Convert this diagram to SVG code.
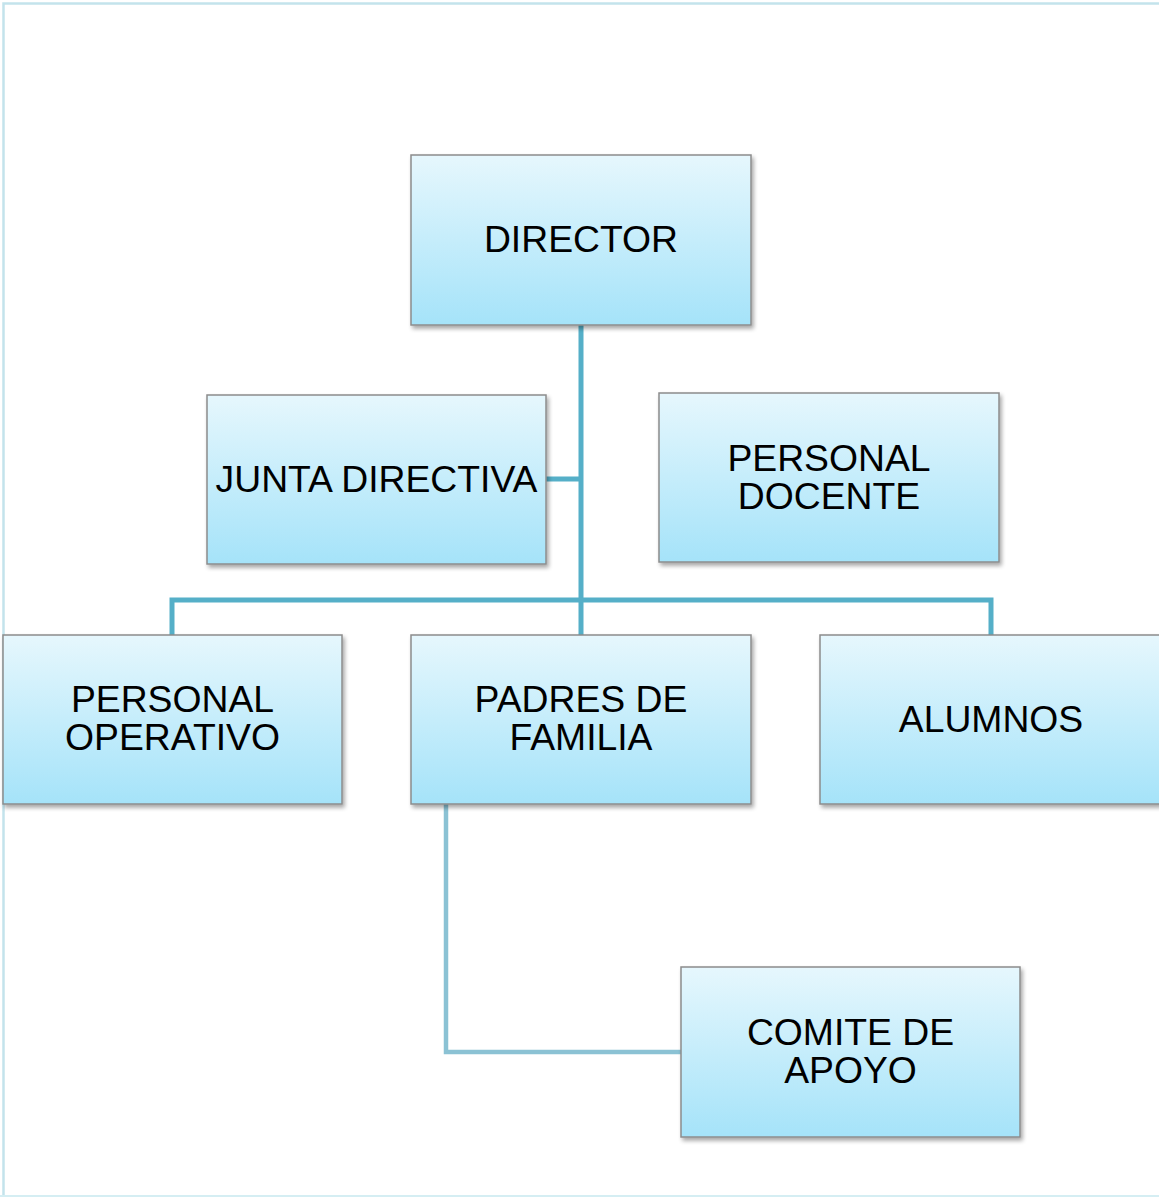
<svg xmlns="http://www.w3.org/2000/svg" width="1159" height="1197" viewBox="0 0 1159 1197">
<defs>
<linearGradient id="g" x1="0" y1="0" x2="0" y2="1">
<stop offset="0" stop-color="#e6f7fd"/>
<stop offset="1" stop-color="#a5e3f9"/>
</linearGradient>
<filter id="sh" x="-5%" y="-5%" width="115%" height="120%">
<feGaussianBlur in="SourceAlpha" stdDeviation="2"/>
<feOffset dx="2" dy="3" result="b"/>
<feComponentTransfer><feFuncA type="linear" slope="0.35"/></feComponentTransfer>
<feMerge><feMergeNode/><feMergeNode in="SourceGraphic"/></feMerge>
</filter>
</defs>
<style>
.box{fill:url(#g);stroke:#8c8c8c;stroke-width:1.5;filter:url(#sh)}
.t{font-family:"Liberation Sans",Arial,sans-serif;font-size:37.3px;fill:#000;text-anchor:middle}
.c{fill:none;stroke:#55afc8;stroke-width:5}
.c2{fill:none;stroke:#8bc2d4;stroke-width:4.5}
</style>
<rect x="0" y="0" width="1159" height="1197" fill="#fff"/>
<path d="M3.5 1196 V3.5 H1170" fill="none" stroke="#c3e3ec" stroke-width="2.5"/>
<path d="M0 1196 H1170" fill="none" stroke="#d5eef3" stroke-width="2"/>
<g id="connectors">
<path class="c" d="M581 325 V635"/>
<path class="c" d="M546 479 H581"/>
<path class="c" d="M172 635 V600 H991 V635"/>
<path class="c2" d="M446 804 V1052 H681"/>
</g>
<g id="director"><rect class="box" x="411" y="155" width="340" height="170"/><text class="t" x="581" y="252">DIRECTOR</text></g>
<g id="junta"><rect class="box" x="207" y="395" width="339" height="169"/><text class="t" x="376.5" y="492">JUNTA DIRECTIVA</text></g>
<g id="docente"><rect class="box" x="659" y="393" width="340" height="169"/><text class="t" x="829" y="471">PERSONAL</text><text class="t" x="829" y="509">DOCENTE</text></g>
<g id="operativo"><rect class="box" x="3" y="635" width="339" height="169"/><text class="t" x="172.5" y="712">PERSONAL</text><text class="t" x="172.5" y="750">OPERATIVO</text></g>
<g id="padres"><rect class="box" x="411" y="635" width="340" height="169"/><text class="t" x="581" y="712">PADRES DE</text><text class="t" x="581" y="750">FAMILIA</text></g>
<g id="alumnos"><rect class="box" x="820" y="635" width="345" height="169"/><text class="t" x="991" y="732">ALUMNOS</text></g>
<g id="comite"><rect class="box" x="681" y="967" width="339" height="170"/><text class="t" x="850.5" y="1045">COMITE DE</text><text class="t" x="850.5" y="1083">APOYO</text></g>
</svg>
